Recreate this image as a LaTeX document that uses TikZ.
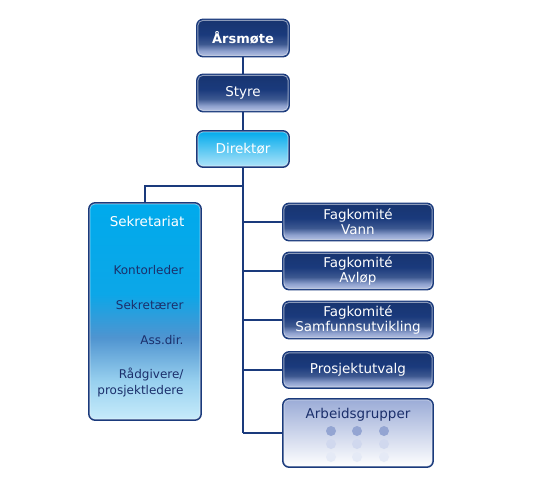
\documentclass[tikz,border=0pt]{standalone}
\usepackage{fontspec}
\setmainfont{DejaVu Sans}
\definecolor{navy}{HTML}{1A3A7C}
\definecolor{navybot}{HTML}{A9B8E1}
\definecolor{cyantop}{HTML}{00AAEC}
\definecolor{cyanbot}{HTML}{B0E4F9}
\definecolor{sekrmid}{HTML}{4F94D0}
\definecolor{txtnavy}{HTML}{1B2F6B}
\pgfdeclareverticalshading{navyshade}{100bp}{color(0bp)=(white!20!navybot); color(25bp)=(white!20!navybot);
  color(33bp)=(navybot!80!navy); color(42bp)=(navy!85!white); color(55bp)=(navy); color(75bp)=(navy!90!black); color(100bp)=(navy!90!black)}
\pgfdeclareverticalshading{sekrshade}{100bp}{color(0bp)=(cyanbot!70!white); color(25bp)=(cyanbot!70!white);
  color(34bp)=(cyanbot!75!sekrmid); color(44bp)=(sekrmid); color(54bp)=(cyantop!85!sekrmid); color(75bp)=(cyantop); color(100bp)=(cyantop)}
\tikzset{
  box/.style={draw=navy, line width=1.8pt, rounded corners=6pt, minimum width=92pt,
    minimum height=37pt, text=white, align=center, font=\fontsize{13.5}{15}\selectfont,
    shading=navyshade},
  wbox/.style={box, minimum width=150pt},
  rim/.style={draw=white, opacity=0.5, line width=0.9pt, rounded corners=5pt},
  link/.style={draw=navy, line width=1.8pt},
  item/.style={anchor=east, text=txtnavy, font=\fontsize{12}{16.5}\selectfont, align=right}
}
\begin{document}
\begin{tikzpicture}[x=1pt,y=-1pt]
        \useasboundingbox (0,0) rectangle (559,485);
        \node[box, font=\bfseries\fontsize{13}{15}\selectfont] (aarsmote) at (243,38) {Årsmøte};
        \node[box] (styre) at (243,93) {Styre};
        \node[box, minimum height=36pt, top color=cyantop, middle color=cyantop!85!cyanbot, bottom color=cyanbot] (direktor) at (243,149) {Direktør};
        \node[box, minimum width=112pt, minimum height=217pt, shading=sekrshade] (sekr) at (145,311.5) {};
        \node[wbox] (vann) at (358,222) {Fagkomité\\Vann};
        \node[wbox] (avlop) at (358,271) {Fagkomité\\Avløp};
        \node[wbox] (samf) at (358,320) {Fagkomité\\Samfunnsutvikling};
        \node[wbox, minimum height=36pt] (prosj) at (358,370) {Prosjektutvalg};
        \node[wbox, minimum height=68pt, top color=navybot!90!navy, middle color=navybot!55!white, bottom color=white] (arbeid) at (358,433) {};
        \foreach \n in {aarsmote,styre,direktor,sekr,vann,avlop,samf,prosj,arbeid}
            \draw[rim] ([xshift=1.8pt,yshift=1.8pt]\n.south west) rectangle ([xshift=-1.8pt,yshift=-1.8pt]\n.north east);
        \node[anchor=east, text=white, font=\fontsize{13.5}{15}\selectfont] (sekrtitle) at (188,221) {Sekretariat};
        \node[item] (kontor) at (187,270) {Kontorleder};
        \node[item] (sekret) at (187,305) {Sekretærer};
        \node[item] (assdir) at (187,340) {Ass.dir.};
        \node[item] (radgiv) at (187,382.5) {Rådgivere/\\prosjektledere};
        \node[text=txtnavy, font=\fontsize{13.5}{15}\selectfont] (arbtitle) at (358,415) {Arbeidsgrupper};
        \foreach \x in {331,357,384} {
            \fill[navybot!85!navy] (\x,431) circle (5pt);
            \fill[navybot!55!white] (\x,444) circle (5pt);
            \fill[navybot!30!white] (\x,457) circle (5pt);
        }
        \coordinate (split) at (243,186);
        \draw[link] (aarsmote.south) -- (styre.north);
        \draw[link] (styre.south) -- (direktor.north);
        \draw[link] (direktor.south) -- (direktor.south |- arbeid.west);
        \draw[link] (split) -| (sekr.north);
        \foreach \n in {vann,avlop,samf,prosj,arbeid}
            \draw[link] (\n.west) -- (\n.west -| direktor.south);
    \end{tikzpicture}
\end{document}
